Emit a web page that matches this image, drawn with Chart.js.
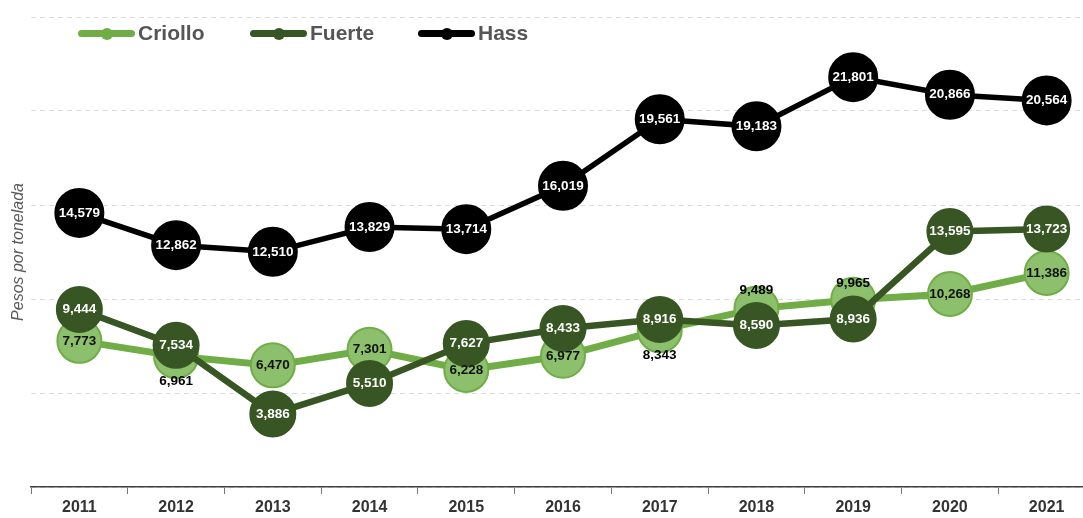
<!DOCTYPE html>
<html>
<head>
<meta charset="utf-8">
<script src="https://cdn.jsdelivr.net/npm/chart.js@4/dist/chart.umd.min.js"></script>
<style>
  html, body { margin: 0; padding: 0; background: #fff; overflow: hidden; }
  #wrap { position: relative; width: 1095px; height: 518px; }
  #legend { position: absolute; top: 0; left: 0; width: 100%; height: 60px; pointer-events: none;
            font-family: "Liberation Sans", Arial, sans-serif; font-weight: bold; font-size: 21px; color: #555; }
  .item { position: absolute; top: 20px; height: 26px; display: flex; align-items: center; }
  .mk { position: relative; width: 57px; height: 26px; margin-right: 3px; }
  .mk .ln { position: absolute; left: 0; right: 0; top: 10px; height: 7px; border-radius: 4px; }
  .mk .dt { position: absolute; left: 22.5px; top: 7.5px; width: 12px; height: 12px; border-radius: 50%; }
</style>
</head>
<body>
<div id="wrap">
  <canvas id="c" width="1095" height="518"></canvas>
  <div id="legend"></div>
</div>
<script>
const categories = ["2011","2012","2013","2014","2015","2016","2017","2018","2019","2020","2021"];
const criollo = [7773, 6961, 6470, 7301, 6228, 6977, 8343, 9489, 9965, 10268, 11386];
const fuerte  = [9444, 7534, 3886, 5510, 7627, 8433, 8916, 8590, 8936, 13595, 13723];
const hass    = [14579, 12862, 12510, 13829, 13714, 16019, 19561, 19183, 21801, 20866, 20564];
const seriesNames = ["Criollo", "Fuerte", "Hass"];
const yTitle = "Pesos por tonelada";

const colors = {
  Criollo: { line: "#70AD47", fill: "#8DC06C", text: "#111111", radius: 22, width: 7 },
  Fuerte:  { line: "#375623", fill: "#375623", text: "#ffffff", radius: 22.5, width: 6.5 },
  Hass:    { line: "#000000", fill: "#000000", text: "#ffffff", radius: 24, width: 5.5 }
};
const seriesData = [criollo, fuerte, hass];

// HTML legend
const legendPos = [78, 250, 418];
const legendEl = document.getElementById("legend");
seriesNames.forEach((n, i) => {
  const it = document.createElement("div");
  it.className = "item";
  it.style.left = legendPos[i] + "px";
  it.innerHTML = '<div class="mk"><div class="ln" style="background:' + colors[n].line +
    '"></div><div class="dt" style="background:' + colors[n].line + '"></div></div><span>' + n + '</span>';
  legendEl.appendChild(it);
});

const fmt = v => v.toLocaleString("en-US");

const labelPlugin = {
  id: "bubbleLabels",
  afterDatasetsDraw(chart) {
    const ctx = chart.ctx;
    ctx.save();
    ctx.font = "bold 13.5px 'Liberation Sans', Arial, sans-serif";
    ctx.textAlign = "center";
    ctx.textBaseline = "middle";
    const fMeta = chart.getDatasetMeta(1);
    chart.data.datasets.forEach((ds, di) => {
      const meta = chart.getDatasetMeta(di);
      const c = colors[ds.label];
      meta.data.forEach((pt, i) => {
        let x = pt.x, y = pt.y;
        let col = c.text;
        if (di === 0) {
          const fy = fMeta.data[i].y;
          const dy = y - fy;
          if (Math.abs(dy) < 24) {
            const off = colors.Fuerte.radius + 13;
            y = dy > 0 ? fy + off : fy - off;
            col = "#000000";
          }
        }
        ctx.fillStyle = col;
        ctx.fillText(fmt(ds.data[i]), x, y);
      });
    });
    ctx.restore();
  }
};

new Chart(document.getElementById("c"), {
  type: "line",
  data: {
    labels: categories,
    datasets: seriesNames.map((n, i) => ({
      label: n,
      data: seriesData[i],
      borderColor: colors[n].line,
      backgroundColor: colors[n].fill,
      borderWidth: colors[n].width,
      pointRadius: colors[n].radius,
      pointHoverRadius: colors[n].radius,
      pointBackgroundColor: colors[n].fill,
      pointBorderColor: colors[n].line,
      pointBorderWidth: 2,
      tension: 0,
      fill: false,
      clip: false,
      order: 3 - i
    }))
  },
  options: {
    responsive: false,
    animation: false,
    events: [],
    layout: { autoPadding: false, padding: { top: 17, right: 0, left: 0, bottom: 0 } },
    plugins: { legend: { display: false }, tooltip: { enabled: false } },
    scales: {
      x: {
        offset: true,
        grid: { display: true, drawOnChartArea: false, tickLength: 7, color: "#777", offset: true },
        border: { display: true, color: "#404040", width: 1.5 },
        ticks: { color: "#333", font: { family: "'Liberation Sans', Arial, sans-serif", weight: "bold", size: 16 }, padding: 4 },
        afterFit(s) { s.height = 31; }
      },
      y: {
        min: 0, max: 25000,
        ticks: { stepSize: 5000, display: false },
        grid: { color: "#dddddd", lineWidth: 1, drawTicks: false },
        border: { display: false, dash: [5, 4] },
        title: { display: true, text: yTitle, color: "#595959",
                 font: { family: "'Liberation Sans', Arial, sans-serif", style: "italic", size: 16 },
                 padding: { top: 9, bottom: 0 } },
        afterFit(s) { s.width = 31; }
      }
    }
  },
  plugins: [labelPlugin]
});
</script>
</body>
</html>
